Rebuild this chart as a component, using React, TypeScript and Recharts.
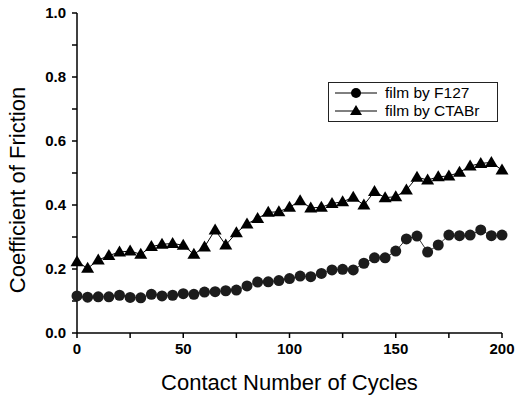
import { LineChart, Line, XAxis, YAxis, Legend } from "recharts";

const cycles = [
  0, 5, 10, 15, 20, 25, 30, 35, 40, 45, 50, 55, 60, 65, 70, 75, 80, 85, 90, 95, 100,
  105, 110, 115, 120, 125, 130, 135, 140, 145, 150, 155, 160, 165, 170, 175, 180, 185, 190, 195, 200,
];

const f127 = [
  0.116, 0.112, 0.113, 0.113, 0.118, 0.111, 0.11, 0.121, 0.116, 0.118, 0.123, 0.121, 0.128, 0.129,
  0.132, 0.134, 0.147, 0.159, 0.16, 0.164, 0.17, 0.178, 0.176, 0.186, 0.197, 0.199, 0.197, 0.218,
  0.235, 0.235, 0.256, 0.294, 0.303, 0.253, 0.275, 0.306, 0.304, 0.306, 0.322, 0.304, 0.306,
];

const ctabr = [
  0.223, 0.202, 0.228, 0.242, 0.253, 0.256, 0.246, 0.27, 0.277, 0.28, 0.274, 0.246, 0.269, 0.322,
  0.275, 0.313, 0.341, 0.358, 0.377, 0.379, 0.393, 0.413, 0.391, 0.393, 0.405, 0.41, 0.424, 0.4,
  0.442, 0.423, 0.426, 0.447, 0.487, 0.478, 0.488, 0.491, 0.502, 0.522, 0.53, 0.533, 0.509,
];

const xTicks = [0, 25, 50, 75, 100, 125, 150, 175, 200];
const yTicks = [0, 0.1, 0.2, 0.3, 0.4, 0.5, 0.6, 0.7, 0.8, 0.9, 1.0];

const data = cycles.map((c, i) => ({ cycle: c, f127: f127[i], ctabr: ctabr[i] }));

const FONT = "'Liberation Sans', Arial, Helvetica, sans-serif";

const CircleDot = (props: any) => {
  const { cx, cy } = props;
  if (cx == null || cy == null) return null;
  return <circle cx={cx} cy={cy} r={5.5} fill="#1c1c1c" />;
};

const TriDot = (props: any) => {
  const { cx, cy } = props;
  if (cx == null || cy == null) return null;
  return <path d={`M${cx},${cy - 6.5} L${cx + 6.5},${cy + 4.5} L${cx - 6.5},${cy + 4.5} Z`} fill="#000" />;
};

const LegendBox = () => (
  <div
    style={{
      border: "1px solid #222",
      background: "#fff",
      width: 168,
      padding: "1px 0",
      fontFamily: FONT,
      fontSize: 15.5,
      color: "#000",
    }}
  >
    {[
      { name: "film by F127", tri: false },
      { name: "film by CTABr", tri: true },
    ].map((r) => (
      <div key={r.name} style={{ display: "flex", alignItems: "center", height: 18 }}>
        <svg width={52} height={18} style={{ marginLeft: 4 }}>
          <line x1={2} y1={9} x2={44} y2={9} stroke="#000" strokeWidth={1} />
          {r.tri ? (
            <path d="M23,3 L29,13 L17,13 Z" fill="#000" />
          ) : (
            <circle cx={23} cy={9} r={5} fill="#000" />
          )}
        </svg>
        <span>{r.name}</span>
      </div>
    ))}
  </div>
);

export default function App() {
  return (
    <div>
      <style>{`body{margin:0;background:#fff}`}</style>
      <LineChart width={517} height={404} data={data} margin={{ top: 13, right: 15, left: 0, bottom: 0 }}>
        <XAxis
          dataKey="cycle"
          type="number"
          domain={[0, 200]}
          ticks={xTicks}
          tickFormatter={(v) => (v % 50 === 0 ? String(v) : "")}
          height={71}
          tickSize={5}
          tickMargin={5}
          stroke="#000"
          strokeWidth={1.5}
          tick={{ fill: "#000", fontSize: 15, fontWeight: "bold", fontFamily: FONT }}
          label={{
            value: "Contact Number of Cycles",
            position: "insideBottom",
            offset: 14,
            fill: "#000",
            fontSize: 22,
            fontFamily: FONT,
          }}
        />
        <YAxis
          type="number"
          domain={[0, 1]}
          ticks={yTicks}
          tickFormatter={(v) => (Math.round(v * 10) % 2 === 0 ? v.toFixed(1) : "")}
          width={77}
          tickSize={5}
          tickMargin={6}
          stroke="#000"
          strokeWidth={1.5}
          tick={{ fill: "#000", fontSize: 15, fontWeight: "bold", fontFamily: FONT }}
          label={() => (
            <text
              x={17}
              y={190}
              transform="rotate(-90 17 190)"
              textAnchor="middle"
              dominantBaseline="central"
              fontSize={22}
              fontFamily={FONT}
              fill="#000"
            >
              Coefficient of Friction
            </text>
          )}
        />
        <Legend
          layout="horizontal"
          verticalAlign="middle"
          align="center"
          content={() => <LegendBox />}
          wrapperStyle={{ position: "absolute", left: 328, top: 82, width: 170 }}
        />
        <Line
          dataKey="f127"
          name="film by F127"
          stroke="#333"
          strokeWidth={1}
          dot={<CircleDot />}
          isAnimationActive={false}
        />
        <Line
          dataKey="ctabr"
          name="film by CTABr"
          stroke="#000"
          strokeWidth={1}
          dot={<TriDot />}
          isAnimationActive={false}
        />
      </LineChart>
    </div>
  );
}
